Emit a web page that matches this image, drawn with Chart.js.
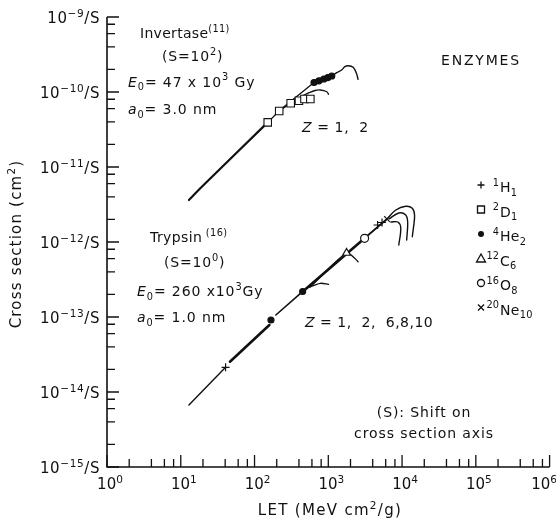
<!DOCTYPE html>
<html><head><meta charset="utf-8">
<script src="https://cdn.jsdelivr.net/npm/chart.js@4/dist/chart.umd.min.js"></script>
<style>html,body{margin:0;padding:0;background:#fff;}canvas{display:block;}</style>
</head><body>
<canvas id="c" width="556" height="520"></canvas>
<script>
// ---- axes ----
const xTickExponents = [0, 1, 2, 3, 4, 5, 6];
const yTickExponents = [-15, -14, -13, -12, -11, -10, -9];
const minorMultipliers = [2, 4, 6, 8];

// ---- Invertase (S = 10^2) ----
const invLineX = [12.9, 18.4, 48.7, 151];
const invLineY = [3.63e-12, 5.2e-12, 1.33e-11, 3.94e-11];
const invD1X = [151, 216, 309, 400, 475, 571];
const invD1Y = [3.94e-11, 5.58e-11, 7.07e-11, 7.66e-11, 8.06e-11, 8.06e-11];
const invLinkX = [239, 640];
const invLinkY = [6.12e-11, 1.338e-10];
const invHe2X = [640, 747, 871, 985, 1114];
const invHe2Y = [1.338e-10, 1.41e-10, 1.49e-10, 1.556e-10, 1.634e-10];
const invHe2TailX = [1114, 1299, 1515, 1677, 1862, 2172, 2404, 2533];
const invHe2TailY = [1.634e-10, 1.808e-10, 1.965e-10, 2.175e-10, 2.243e-10, 2.135e-10, 1.776e-10, 1.476e-10];
const invD1TailX = [456, 549, 660, 777, 955, 1006];
const invD1TailY = [8.98e-11, 9.79e-11, 1.047e-10, 1.063e-10, 1.009e-10, 9.32e-11];

// ---- Trypsin (S = 10^0) ----
const tryLowX = [12.9, 40.5];
const tryLowY = [6.71e-15, 2.135e-14];
const tryH1X = [40.5, 4659, 5351];
const tryH1Y = [2.135e-14, 1.685e-12, 1.82e-12];
const tryThickX = [46.4, 158.9];
const tryThickY = [2.535e-14, 7.82e-14];
const tryHe2X = [167, 449];
const tryHe2Y = [9.12e-14, 2.188e-13];
const tryMidX = [194.6, 420];
const tryMidY = [1.063e-13, 2.07e-13];
const tryBundleX = [485, 3105];
const tryBundleY = [2.325e-13, 1.12e-12];
const tryC6LineX = [566, 1768, 2282, 2533];
const tryC6LineY = [2.512e-13, 7.13e-13, 6.06e-13, 5.46e-13];
const tryHe2TailX = [516, 777, 1006];
const tryHe2TailY = [2.435e-13, 2.813e-13, 2.729e-13];
const tryC6X = [1768];
const tryC6Y = [7.13e-13];
const tryO8X = [3105];
const tryO8Y = [1.12e-12];
const tryTopX = [3270, 6242];
const tryTopY = [1.177e-12, 2.026e-12];
const tryNe10X = [6242];
const tryNe10Y = [2.026e-12];
const tryHookAX = [6242, 8233, 11200, 13760, 14770, 14330, 13760];
const tryHookAY = [2.026e-12, 2.672e-12, 2.992e-12, 2.813e-12, 2.29e-12, 1.6e-12, 1.177e-12];
const tryHookBX = [6637, 9030, 11200, 11910, 11550];
const tryHookBY = [2.026e-12, 2.435e-12, 2.29e-12, 1.848e-12, 1.063e-12];
const tryHookCX = [7058, 8757, 9600, 9030];
const tryHookCY = [1.848e-12, 1.848e-12, 1.538e-12, 9.12e-13];

// ---- legend ----
const legendStyles = ['cross', 'rect', 'dot', 'triangle', 'circle', 'crossRot'];
const legendMass = ['1', '2', '4', '12', '16', '20'];
const legendElement = ['H', 'D', 'He', 'C', 'O', 'Ne'];
const legendCharge = ['1', '1', '2', '6', '8', '10'];

const INK = '#111';
function pts(xs, ys) { return xs.map((x, i) => ({ x: x, y: ys[i] })); }
function line(xs, ys, w, tension) {
  return { data: pts(xs, ys), showLine: true, borderColor: INK, borderWidth: w, pointRadius: 0,
           tension: tension || 0, order: 2, borderCapStyle: 'round', borderJoinStyle: 'round' };
}
function marks(xs, ys, style, r, filled, bw) {
  return { data: pts(xs, ys), showLine: false, pointStyle: style, pointRadius: r,
           pointBackgroundColor: filled ? INK : '#fff', pointBorderColor: INK, pointBorderWidth: bw || 1.2, order: 0 };
}

const datasets = [
  line(invLineX, invLineY, 2.2),
  line(invD1X, invD1Y, 1.3),
  line(invLinkX, invLinkY, 1.3),
  line(invHe2X, invHe2Y, 5),
  line(invHe2TailX, invHe2TailY, 1.4, 0.35),
  line(invD1TailX, invD1TailY, 1.3, 0.35),
  marks(invD1X, invD1Y, 'rect', 5.3, false, 1.1),
  marks(invHe2X, invHe2Y, 'circle', 3, true),

  line(tryLowX, tryLowY, 1.4),
  line(tryThickX, tryThickY, 2.6),
  line(tryMidX, tryMidY, 1.6),
  line(tryBundleX, tryBundleY, 2.6),
  line(tryC6LineX, tryC6LineY, 1.4, 0.3),
  line(tryHe2TailX, tryHe2TailY, 1.3, 0.3),
  line(tryTopX, tryTopY, 1.8),
  line(tryHookAX, tryHookAY, 1.4, 0.35),
  line(tryHookBX, tryHookBY, 1.4, 0.35),
  line(tryHookCX, tryHookCY, 1.4, 0.35),
  marks(tryH1X, tryH1Y, 'cross', 4, false),
  marks(tryHe2X, tryHe2Y, 'circle', 3, true),
  marks(tryC6X, tryC6Y, 'triangle', 4.5, false),
  marks(tryO8X, tryO8Y, 'circle', 4, false),
  marks(tryNe10X, tryNe10Y, 'crossRot', 4, false)
];

const FAM = '"DejaVu Sans", "Liberation Sans", sans-serif';
function measureRich(ctx, segs, opt) {
  opt = opt || {};
  const size = opt.size || 14, ls = opt.ls || 0;
  return segs.map(function (s) {
    const t = s[0], k = s[1] || '';
    const small = (k === 'sup' || k === 'sub');
    const fs = small ? size * 0.7 : size;
    const font = (k === 'it' ? 'oblique ' : '') + fs.toFixed(1) + 'px ' + FAM;
    const dy = k === 'sup' ? -size * 0.45 : (k === 'sub' ? size * 0.25 : 0);
    ctx.font = font;
    if ('letterSpacing' in ctx) ctx.letterSpacing = ls + 'px';
    const w = ctx.measureText(t).width + (('letterSpacing' in ctx) ? 0 : ls * t.length);
    return { t: t, font: font, dy: dy, w: w };
  });
}
function drawRich(ctx, segs, x, y, opt) {
  opt = opt || {};
  const size = opt.size || 14, ls = opt.ls || 0, align = opt.align || 'left';
  const parts = measureRich(ctx, segs, opt);
  const total = parts.reduce(function (a, p) { return a + p.w; }, 0);
  let cx = align === 'center' ? x - total / 2 : (align === 'right' ? x - total : x);
  if (opt.maxRight !== undefined && cx + total > opt.maxRight) cx = opt.maxRight - total;
  const base = y + size * 0.36;
  ctx.textBaseline = 'alphabetic';
  ctx.textAlign = 'left';
  ctx.fillStyle = INK;
  parts.forEach(function (p) {
    ctx.font = p.font;
    if ('letterSpacing' in ctx) ctx.letterSpacing = ls + 'px';
    ctx.fillText(p.t, cx, base + p.dy);
    cx += p.w;
  });
  if ('letterSpacing' in ctx) ctx.letterSpacing = '0px';
  return total;
}

function drawSymbol(ctx, style, x, y) {
  ctx.save();
  ctx.strokeStyle = INK; ctx.fillStyle = INK; ctx.lineWidth = 1.3;
  ctx.beginPath();
  if (style === 'cross') { ctx.moveTo(x - 3.5, y); ctx.lineTo(x + 3.5, y); ctx.moveTo(x, y - 3.5); ctx.lineTo(x, y + 3.5); ctx.stroke(); }
  else if (style === 'crossRot') { ctx.moveTo(x - 3, y - 3); ctx.lineTo(x + 3, y + 3); ctx.moveTo(x + 3, y - 3); ctx.lineTo(x - 3, y + 3); ctx.stroke(); }
  else if (style === 'rect') { ctx.rect(x - 3.5, y - 3.5, 7, 7); ctx.stroke(); }
  else if (style === 'dot') { ctx.arc(x, y, 3, 0, Math.PI * 2); ctx.fill(); }
  else if (style === 'triangle') { ctx.moveTo(x, y - 4.5); ctx.lineTo(x + 4.5, y + 3.5); ctx.lineTo(x - 4.5, y + 3.5); ctx.closePath(); ctx.stroke(); }
  else if (style === 'circle') { ctx.arc(x, y, 3.5, 0, Math.PI * 2); ctx.stroke(); }
  ctx.restore();
}

const decor = {
  id: 'decor',
  afterDraw(chart) {
    const ctx = chart.ctx, xs = chart.scales.x, ys = chart.scales.y, a = chart.chartArea;
    ctx.save();
    ctx.strokeStyle = INK; ctx.lineWidth = 1.6; ctx.lineCap = 'butt';
    ctx.beginPath();
    ctx.moveTo(a.left, a.top); ctx.lineTo(a.left, a.bottom); ctx.lineTo(a.right, a.bottom);
    ctx.stroke();
    ctx.lineWidth = 1.3;
    ctx.beginPath();
    xTickExponents.forEach(function (e) {
      const px = xs.getPixelForValue(Math.pow(10, e));
      ctx.moveTo(px, a.bottom); ctx.lineTo(px, a.bottom - 12);
      if (e < xTickExponents[xTickExponents.length - 1]) minorMultipliers.forEach(function (m) {
        const q = xs.getPixelForValue(m * Math.pow(10, e));
        ctx.moveTo(q, a.bottom); ctx.lineTo(q, a.bottom - 8);
      });
    });
    yTickExponents.forEach(function (e) {
      const py = ys.getPixelForValue(Math.pow(10, e));
      ctx.moveTo(a.left, py); ctx.lineTo(a.left + 12, py);
      if (e < yTickExponents[yTickExponents.length - 1]) minorMultipliers.forEach(function (m) {
        const q = ys.getPixelForValue(m * Math.pow(10, e));
        ctx.moveTo(a.left, q); ctx.lineTo(a.left + 8, q);
      });
    });
    ctx.stroke();

    // tick labels
    xTickExponents.forEach(function (e) {
      const px = xs.getPixelForValue(Math.pow(10, e));
      drawRich(ctx, [['10'], [String(e), 'sup']], px + 3, 484, { size: 15, align: 'center', maxRight: chart.width + 1 });
    });
    yTickExponents.forEach(function (e) {
      const py = ys.getPixelForValue(Math.pow(10, e));
      drawRich(ctx, [['10'], ['\u2212' + Math.abs(e), 'sup'], ['/S']], a.left - 7, py + 1, { size: 15, align: 'right', ls: 0.6 });
    });

    // axis titles
    drawRich(ctx, [['LET (MeV cm'], ['2', 'sup'], ['/g)']], 330, 510, { size: 15, align: 'center', ls: 1.3 });
    ctx.save();
    ctx.translate(16, 244);
    ctx.rotate(-Math.PI / 2);
    drawRich(ctx, [['Cross section (cm'], ['2', 'sup'], [')']], 0, 0, { size: 15, align: 'center', ls: 1.2 });
    ctx.restore();

    // Invertase annotations
    drawRich(ctx, [['Invertase'], ['(11)', 'sup']], 140, 33, { size: 14, ls: 0.3 });
    drawRich(ctx, [['(S=10'], ['2', 'sup'], [')']], 162, 56, { size: 14, ls: 0.8 });
    drawRich(ctx, [['E', 'it'], ['0', 'sub'], ['= 47 x 10'], ['3', 'sup'], [' Gy']], 128, 81.5, { size: 14, ls: 0.9 });
    drawRich(ctx, [['a', 'it'], ['0', 'sub'], ['= 3.0 nm']], 128, 109, { size: 14, ls: 0.9 });
    drawRich(ctx, [['Z', 'it'], [' = 1,  2']], 302, 127, { size: 14, ls: 0.6 });

    // Trypsin annotations
    drawRich(ctx, [['Trypsin'], [' (16)', 'sup']], 150, 237, { size: 14, ls: 0.4 });
    drawRich(ctx, [['(S=10'], ['0', 'sup'], [')']], 164, 262, { size: 14, ls: 0.8 });
    drawRich(ctx, [['E', 'it'], ['0', 'sub'], ['= 260 x10'], ['3', 'sup'], ['Gy']], 137, 291, { size: 14, ls: 0.9 });
    drawRich(ctx, [['a', 'it'], ['0', 'sub'], ['= 1.0 nm']], 137, 317, { size: 14, ls: 0.9 });
    drawRich(ctx, [['Z', 'it'], [' = 1,  2,  6,8,10']], 305, 322, { size: 14, ls: 0.5 });

    drawRich(ctx, [['ENZYMES']], 441, 60, { size: 14, ls: 1.8 });
    drawRich(ctx, [['(S): Shift on']], 424, 412, { size: 14, align: 'center', ls: 0.9 });
    drawRich(ctx, [['cross section axis']], 424, 433, { size: 14, align: 'center', ls: 0.9 });

    // legend
    legendStyles.forEach(function (s, i) {
      const y = 185 + i * 24.5;
      drawSymbol(ctx, s, 481, y);
      drawRich(ctx, [[legendMass[i], 'sup']], 499, y + 2, { size: 14, align: 'right' });
      drawRich(ctx, [[legendElement[i]], [legendCharge[i], 'sub']], 500, y + 2, { size: 14, ls: 0.3 });
    });
    ctx.restore();
  }
};

new Chart(document.getElementById('c'), {
  type: 'scatter',
  data: { datasets: datasets },
  options: {
    responsive: false,
    animation: false,
    events: [],
    layout: { padding: { left: 107, right: 0, top: 17, bottom: 53 } },
    scales: {
      x: { type: 'logarithmic', min: 1, max: 1e6, display: false },
      y: { type: 'logarithmic', min: 1e-15, max: 1e-9, display: false }
    },
    plugins: { legend: { display: false }, tooltip: { enabled: false } }
  },
  plugins: [decor]
});
</script>
</body></html>
